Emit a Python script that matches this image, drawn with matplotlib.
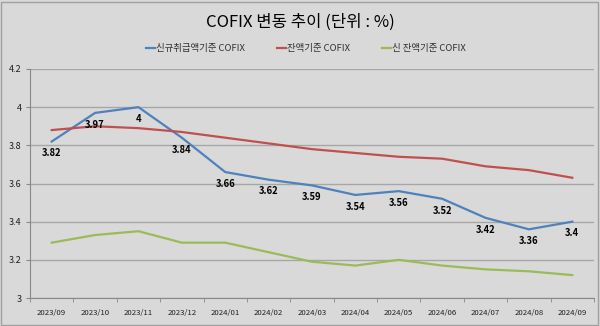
import matplotlib
matplotlib.use("Agg")
import matplotlib.pyplot as plt
from matplotlib.patches import Rectangle

plt.rcParams['font.family'] = ['Noto Sans CJK KR', 'DejaVu Sans']

months = ["2023/09", "2023/10", "2023/11", "2023/12", "2024/01", "2024/02", "2024/03",
          "2024/04", "2024/05", "2024/06", "2024/07", "2024/08", "2024/09"]
new_cofix = [3.82, 3.97, 4.00, 3.84, 3.66, 3.62, 3.59, 3.54, 3.56, 3.52, 3.42, 3.36, 3.40]
bal_cofix = [3.88, 3.90, 3.89, 3.87, 3.84, 3.81, 3.78, 3.76, 3.74, 3.73, 3.69, 3.67, 3.63]
newbal_cofix = [3.29, 3.33, 3.35, 3.29, 3.29, 3.24, 3.19, 3.17, 3.20, 3.17, 3.15, 3.14, 3.12]
new_labels = ["3.82", "3.97", "4", "3.84", "3.66", "3.62", "3.59", "3.54", "3.56", "3.52", "3.42", "3.36", "3.4"]
series_names = ["신규취급액기준 COFIX", "잔액기준 COFIX", "신 잔액기준 COFIX"]
yticks = [3, 3.2, 3.4, 3.6, 3.8, 4, 4.2]
ytick_labels = ["3", "3.2", "3.4", "3.6", "3.8", "4", "4.2"]

W, H = 600, 326
fig = plt.figure(figsize=(W / 100, H / 100), dpi=100)
bg = "#d9d9d9"
fig.patch.set_facecolor(bg)
fig.add_artist(Rectangle((1 / W, 1 / H), 1 - 3 / W, 1 - 3 / H, transform=fig.transFigure,
                         fill=False, edgecolor="#a0a0a0", linewidth=1.0))

left, right, top, bottom = 30, 594, 69, 298
ax = fig.add_axes([left / W, 1 - bottom / H, (right - left) / W, (bottom - top) / H])
ax.set_facecolor(bg)

x = list(range(len(months)))
colors = ["#4f81bd", "#c0504d", "#9bbb59"]
ax.plot(x, new_cofix, color=colors[0], lw=1.6, label=series_names[0])
ax.plot(x, bal_cofix, color=colors[1], lw=1.6, label=series_names[1])
ax.plot(x, newbal_cofix, color=colors[2], lw=1.6, label=series_names[2])

for xi, v, lab in zip(x, new_cofix, new_labels):
    ax.annotate(lab, (xi, v), xytext=(0, -8.5), textcoords="offset points",
                ha="center", va="center", fontsize=6.8, fontweight="bold", color="black")

ax.set_xlim(-0.5, len(months) - 0.5)
ax.set_ylim(3, 4.2)
ax.set_yticks(yticks)
ax.set_yticklabels(ytick_labels, fontsize=6.5, color="#202020")
ax.set_xticks(x)
ax.set_xticklabels(months, fontsize=5.6, color="#202020")
ax.set_xticks([i - 0.5 for i in range(len(months) + 1)], minor=True)
ax.tick_params(axis="x", which="major", length=0, pad=8)
ax.tick_params(axis="x", which="minor", length=3, color="#888888")
ax.tick_params(axis="y", length=3, color="#888888", pad=3)
ax.grid(axis="y", color="#a6a6a6", lw=1.0)
ax.set_axisbelow(True)
for s in ["top", "right"]:
    ax.spines[s].set_visible(False)
for s in ["left", "bottom"]:
    ax.spines[s].set_color("#888888")
    ax.spines[s].set_linewidth(0.8)

fig.text(0.5, 1 - 22 / H, "COFIX 변동 추이 (단위 : %)", ha="center", va="center",
         fontsize=12, color="black")

leg = fig.legend(loc="center", bbox_to_anchor=(306 / W, 1 - 49 / H), ncol=3, frameon=False,
                 fontsize=6.8, handlelength=0.9, handletextpad=0.15, columnspacing=3.4)
for t in leg.get_texts():
    t.set_color("#303030")

fig.savefig("out.png", dpi=100, facecolor=fig.get_facecolor())
